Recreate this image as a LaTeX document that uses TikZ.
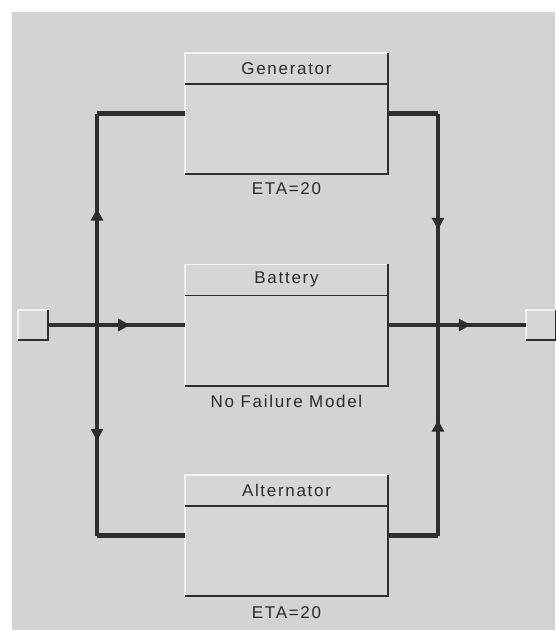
\documentclass[tikz,border=0pt]{standalone}
\usepackage{fontspec}
\setmainfont{Liberation Sans}
\newfontfamily\lblfont[LetterSpace=10]{Liberation Sans}
\usetikzlibrary{arrows.meta,decorations.markings,calc}
\definecolor{bg}{HTML}{D3D3D3}
\definecolor{boxfill}{HTML}{D6D6D6}
\definecolor{dark}{HTML}{2E2E2E}
\definecolor{lite}{HTML}{F2F2F2}
\definecolor{txt}{HTML}{2A2A2A}
\tikzset{
  blockbox/.style={rectangle, minimum width=203pt, minimum height=121pt, inner sep=0pt, fill=boxfill, draw=none},
  portbox/.style={rectangle, minimum width=30pt, minimum height=30pt, inner sep=0pt, fill=boxfill, draw=none},
  lbl/.style={font=\lblfont\fontsize{17}{20}\selectfont, text=txt, inner sep=0pt},
  bus/.style={draw=dark, line width=4.5pt, line join=miter},
  feed/.style={draw=dark, line width=4pt},
  arrmark/.style={postaction=decorate, decoration={markings, mark=at position #1 with {\arrow{Triangle[length=12pt,width=12pt]}}}},
}
\newcommand{\bevel}[1]{%
  \draw[lite, line width=1.6pt] (#1.south west) -- (#1.north west) -- (#1.north east);
  \draw[dark, line width=1.8pt] (#1.north east) -- (#1.south east) -- (#1.south west);
}
\begin{document}
\begin{tikzpicture}[x=1pt,y=-1pt]
\useasboundingbox (0,0) rectangle (555,630);
\fill[white] (0,0) rectangle (555,630);
\fill[bg] (12,12) rectangle (555,630);

% blocks
\node[blockbox] (gen) at (286.5,113.5) {};
\node[blockbox] (bat) at (286.5,325) {};
\node[blockbox] (alt) at (286.5,535.5) {};
\foreach \b/\t in {gen/Generator, bat/Battery, alt/Alternator}{
  \bevel{\b}
  \draw[dark, line width=1.6pt] ($(\b.north west)+(0,31)$) -- ($(\b.north east)+(0,31)$);
  \node[lbl] (\b-title) at ($(\b.north)+(0,15.5)$) {\t};
}
\node[lbl] (gen-sub) at ($(gen.south)+(0,14)$) {ETA=20};
\node[lbl] (bat-sub) at ($(bat.south)+(0,16)$) {No Failure Model};
\node[lbl] (alt-sub) at ($(alt.south)+(0,16)$) {ETA=20};

% ports
\node[portbox] (inL) at (33,325) {};
\node[portbox] (outR) at (541,325) {};
\bevel{inL}
\bevel{outR}

% bus corners and junctions
\coordinate (lt) at (97,113.5);
\coordinate (lb) at (97,535.5);
\coordinate (jl) at (97,325);
\coordinate (rt) at (438,113.5);
\coordinate (rb) at (438,535.5);
\coordinate (jr) at (438,325);

% connectors
\draw[feed, arrmark=0.6] (inL.east) -- (bat.west);
\draw[feed, arrmark=0.6] (bat.east) -- (outR.west);
\draw[bus, arrmark=0.55] (jl) -- (lt);
\draw[bus] (lt) -- (gen.west);
\draw[bus, arrmark=0.55] (jl) -- (lb);
\draw[bus] (lb) -- (alt.west);
\draw[bus] (gen.east) -- (rt);
\draw[bus, arrmark=0.55] (rt) -- (jr);
\draw[bus] (alt.east) -- (rb);
\draw[bus, arrmark=0.55] (rb) -- (jr);
\end{tikzpicture}
\end{document}
